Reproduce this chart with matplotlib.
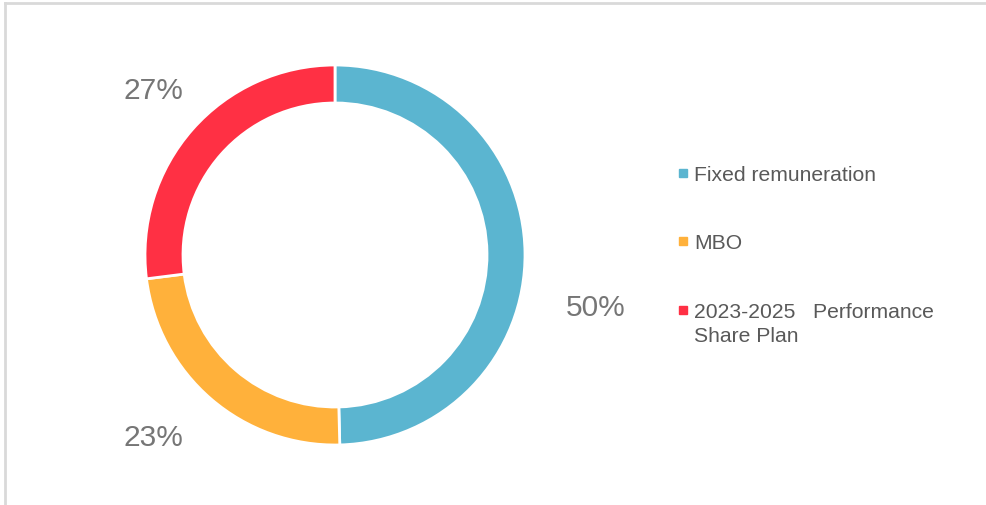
import numpy as np
import matplotlib.pyplot as plt
from matplotlib.lines import Line2D
from matplotlib.patches import Rectangle

plt.rcParams['font.family'] = ['Liberation Sans', 'DejaVu Sans']

# data
labels = ['Fixed remuneration', 'MBO', '2023-2025   Performance\nShare Plan']
shares = [49.6, 23.4, 27.0]
colors = ['#5BB5D0', '#FFB13B', '#FF3044']

# label placement around the ring (radius multiple, angle nudge in degrees)
pct_dist = [1.40, 1.355, 1.293]
pct_nudge = [-12.0, -4.3, -0.8]

fig = plt.figure(figsize=(9.87, 5.06), dpi=100)
ax = fig.add_axes([145 / 987, 60 / 506, 380 / 987, 380 / 506])

wedges, _ = ax.pie(shares, colors=colors, startangle=90, counterclock=False,
                   radius=1.0, wedgeprops=dict(width=0.2, edgecolor='white', linewidth=2))
ax.set_xlim(-1, 1)
ax.set_ylim(-1, 1)
ax.set_aspect('equal')
ax.axis('off')

total = sum(shares)
for w, v, d, n in zip(wedges, shares, pct_dist, pct_nudge):
    mid = np.deg2rad((w.theta1 + w.theta2) / 2 + n)
    ax.text(d * np.cos(mid), d * np.sin(mid), '%d%%' % round(100 * v / total),
            ha='center', va='center', fontsize=21.5, color='#767676', clip_on=False)

# legend drawn by hand to keep the marker on the first line
leg_y = [174, 242, 311]
for lab, col, y in zip(labels, colors, leg_y):
    yf = 1 - y / 506
    fig.patches.append(Rectangle((679 / 987, yf - 4 / 506), 8 / 987, 8 / 506,
                                 transform=fig.transFigure, color=col))
    fig.text(694 / 987, yf + 8 / 506, lab, ha='left', va='top', fontsize=15.2,
             color='#595959', linespacing=1.3)

# light frame on top and left
fig.lines.append(Line2D([5 / 987, 1], [1 - 4 / 506, 1 - 4 / 506],
                        transform=fig.transFigure, color='#D9D9D9', lw=2))
fig.lines.append(Line2D([5 / 987, 5 / 987], [0, 1 - 4 / 506],
                        transform=fig.transFigure, color='#D9D9D9', lw=2))

fig.savefig('out.png', dpi=100)
